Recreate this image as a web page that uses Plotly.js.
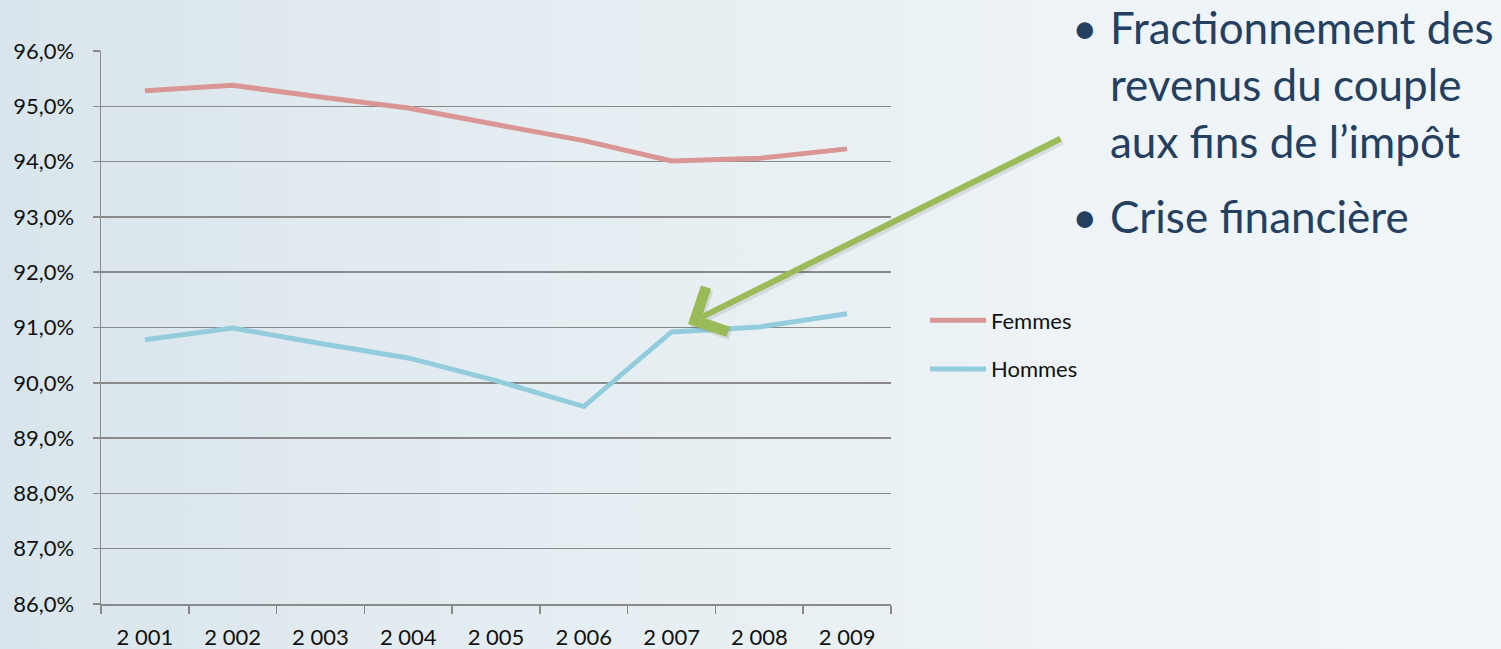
<!DOCTYPE html>
<html>
<head>
<meta charset="utf-8">
<script src="https://cdn.plot.ly/plotly-3.0.1.min.js"></script>
<style>
  html, body { margin: 0; padding: 0; }
  body {
    width: 1501px; height: 649px; overflow: hidden;
    background: linear-gradient(to right, #d9e5ec 0%, #e4edf1 35%, #edf3f7 70%, #f1f6f9 100%);
  }
  #chart { width: 1501px; height: 649px; }
</style>
</head>
<body>
<div id="chart"></div>
<script>
// ---- data ----
const years = ['2 001', '2 002', '2 003', '2 004', '2 005', '2 006', '2 007', '2 008', '2 009'];
const femmes = [95.28, 95.38, 95.17, 94.97, 94.67, 94.38, 94.01, 94.06, 94.23];
const hommes = [90.78, 90.99, 90.71, 90.45, 90.04, 89.57, 90.92, 91.01, 91.25];
const seriesNames = ['Femmes', 'Hommes'];
const bulletLines1 = ['Fractionnement des', 'revenus du couple', 'aux fins de l’impôt'];
const bulletLines2 = ['Crise financière'];

// ---- layout helpers (pixel -> paper) ----
const L = 101, R = 610, T = 51, B = 45, W = 1501, H = 649;
const PW = W - L - R, PH = H - T - B;
const px = x => (x - L) / PW;
const py = y => (H - B - y) / PH;

const FONT = 'Lato, "Open Sans", sans-serif';
const navy = '#243F60';
const grid = '#8a8a8a';

const traces = [
  { x: years, y: femmes, name: seriesNames[0], type: 'scatter', mode: 'lines',
    line: { color: '#D99694', width: 5 }, legendgroup: 'f' },
  { x: years, y: hommes, name: seriesNames[1], type: 'scatter', mode: 'lines',
    line: { color: '#93CDDD', width: 5 }, legendgroup: 'h' }
];

const textTop = -1;
const bulletSize = 44;
const arrowTip = [688, 324], arrowTail = [1062, 138];
const annotations = [
  // arrow shadow
  { xref: 'paper', yref: 'paper', x: px(arrowTip[0] + 2), y: py(arrowTip[1] + 3),
    ax: arrowTail[0] - arrowTip[0], ay: arrowTail[1] - arrowTip[1],
    text: '', showarrow: true, arrowhead: 4, arrowsize: 1.6, arrowwidth: 6,
    arrowcolor: 'rgba(70,70,70,0.12)', standoff: 0 },
  // arrow
  { xref: 'paper', yref: 'paper', x: px(arrowTip[0]), y: py(arrowTip[1]),
    ax: arrowTail[0] - arrowTip[0], ay: arrowTail[1] - arrowTip[1],
    text: '', showarrow: true, arrowhead: 4, arrowsize: 1.6, arrowwidth: 6,
    arrowcolor: '#9BBB59', standoff: 0 },
  // bullets
  { xref: 'paper', yref: 'paper', x: px(1085), y: py(textTop), xanchor: 'center', yanchor: 'top',
    text: '•', showarrow: false, font: { family: FONT, size: bulletSize, color: navy } },
  { xref: 'paper', yref: 'paper', x: px(1108), y: py(textTop), xanchor: 'left', yanchor: 'top',
    align: 'left', text: bulletLines1.join('<br>'), showarrow: false,
    font: { family: FONT, size: bulletSize, color: navy } },
  { xref: 'paper', yref: 'paper', x: px(1085), y: py(textTop + 189), xanchor: 'center', yanchor: 'top',
    text: '•', showarrow: false, font: { family: FONT, size: bulletSize, color: navy } },
  { xref: 'paper', yref: 'paper', x: px(1108), y: py(textTop + 189), xanchor: 'left', yanchor: 'top',
    align: 'left', text: bulletLines2.join('<br>'), showarrow: false,
    font: { family: FONT, size: bulletSize, color: navy } }
];

const layout = {
  width: W, height: H,
  margin: { l: L, r: R, t: T, b: B, pad: 0 },
  paper_bgcolor: 'rgba(0,0,0,0)',
  plot_bgcolor: 'rgba(0,0,0,0)',
  separators: ', ',
  font: { family: FONT, size: 22, color: '#111111' },
  showlegend: true,
  legend: {
    x: px(925), y: py(345), xanchor: 'left', yanchor: 'middle',
    bgcolor: 'rgba(0,0,0,0)', borderwidth: 0,
    traceorder: 'grouped', tracegroupgap: 17, itemwidth: 56,
    font: { family: FONT, size: 22, color: '#111111' }
  },
  xaxis: {
    type: 'category', range: [-0.5, 8.5],
    showgrid: false, zeroline: false,
    showline: true, linecolor: grid, linewidth: 1.5,
    ticks: 'outside', tickson: 'boundaries', ticklen: 8, tickwidth: 1.5, tickcolor: grid,
    ticklabelstandoff: 13,
    tickfont: { family: FONT, size: 22, color: '#111111' }
  },
  yaxis: {
    range: [86, 96], dtick: 1, tick0: 86,
    tickformat: '.1f', ticksuffix: '%',
    showgrid: true, gridcolor: grid, gridwidth: 1.5,
    zeroline: false,
    showline: true, linecolor: grid, linewidth: 1.5,
    ticks: 'outside', ticklen: 7, tickwidth: 1.5, tickcolor: grid,
    ticklabelstandoff: 14,
    tickfont: { family: FONT, size: 22, color: '#111111' }
  },
  annotations: annotations
};

Plotly.newPlot('chart', traces, layout, { staticPlot: true, displayModeBar: false });
</script>
</body>
</html>
